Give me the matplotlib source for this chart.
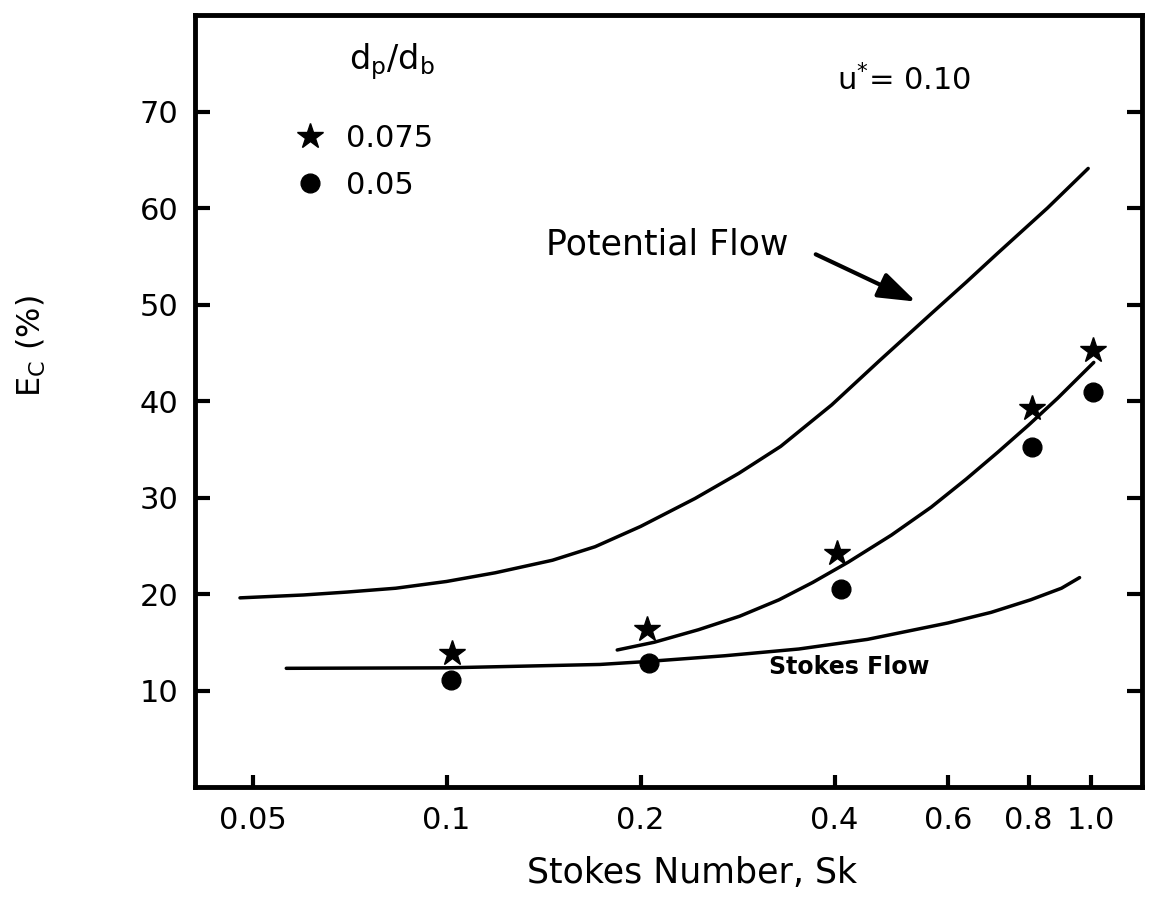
import matplotlib
matplotlib.use('Agg')
import matplotlib.pyplot as plt
from matplotlib.ticker import FixedLocator, NullLocator

plt.rcParams['font.family'] = ['DejaVu Sans']
plt.rcParams['mathtext.fontset'] = 'dejavusans'

# ---- data ----
potential_x = [0.0478, 0.06, 0.07, 0.0834, 0.100, 0.119, 0.146, 0.17, 0.20, 0.243,
               0.284, 0.33, 0.396, 0.47, 0.564, 0.64, 0.716, 0.856, 0.99]
potential_y = [19.6, 19.9, 20.2, 20.6, 21.3, 22.2, 23.5, 24.9, 27.0, 29.9,
               32.5, 35.3, 39.6, 44.2, 49.0, 52.3, 55.3, 60.0, 64.1]

middle_x = [0.184, 0.21, 0.246, 0.285, 0.328, 0.37, 0.42, 0.49, 0.565, 0.64,
            0.717, 0.80, 0.888, 1.01]
middle_y = [14.2, 15.0, 16.3, 17.7, 19.4, 21.2, 23.3, 26.1, 29.0, 31.9,
            34.7, 37.5, 40.3, 44.0]

stokes_x = [0.0564, 0.100, 0.173, 0.204, 0.27, 0.352, 0.45, 0.60, 0.70, 0.806, 0.90, 0.96]
stokes_y = [12.3, 12.35, 12.7, 13.0, 13.6, 14.3, 15.3, 17.0, 18.1, 19.4, 20.6, 21.7]

star_x = [0.1018, 0.205, 0.404, 0.81, 1.006]
star_y = [13.9, 16.4, 24.2, 39.3, 45.3]

circle_x = [0.1015, 0.206, 0.41, 0.81, 1.006]
circle_y = [11.1, 12.9, 20.5, 35.2, 40.9]

xticks = [0.05, 0.1, 0.2, 0.4, 0.6, 0.8, 1.0]
xtick_labels = ['0.05', '0.1', '0.2', '0.4', '0.6', '0.8', '1.0']
yticks = [10, 20, 30, 40, 50, 60, 70]
ytick_labels = ['10', '20', '30', '40', '50', '60', '70']

series_labels = ['0.075', '0.05']

# ---- figure ----
fig = plt.figure(figsize=(11.51, 9.09), dpi=100)
ax = fig.add_axes([0.1694, 0.1342, 0.8228, 0.8493])
ax.set_xscale('log')
ax.set_xlim(0.0407, 1.2)
ax.set_ylim(0, 80)

lw = 2.5
for xs, ys in ((potential_x, potential_y), (middle_x, middle_y), (stokes_x, stokes_y)):
    ax.plot(xs, ys, color='black', lw=lw, solid_capstyle='round', solid_joinstyle='round')

h1, = ax.plot(star_x, star_y, linestyle='none', marker='*', ms=19, color='black',
              label=series_labels[0], zorder=5)
h2, = ax.plot(circle_x, circle_y, linestyle='none', marker='o', ms=13.5, color='black',
              label=series_labels[1], zorder=5)

# ticks
ax.xaxis.set_major_locator(FixedLocator(xticks))
ax.xaxis.set_minor_locator(NullLocator())
ax.set_xticklabels(xtick_labels)
ax.yaxis.set_major_locator(FixedLocator(yticks))
ax.set_yticklabels(ytick_labels)
ax.tick_params(axis='x', which='major', direction='in', length=9, width=3,
               pad=14, labelsize=22, top=False)
ax.tick_params(axis='y', which='major', direction='in', length=11, width=3,
               pad=12, labelsize=22, left=True, right=True)
for sp in ax.spines.values():
    sp.set_linewidth(3.5)

# axis labels
ax.set_ylabel(r'E$_{\mathregular{C}}$ (%)', fontsize=23)
ax.yaxis.set_label_coords(-0.173, 0.571)
ax.yaxis.label.set_va('center')
ax.set_xlabel('Stokes Number, Sk', fontsize=25)
ax.xaxis.set_label_coords(0.525, -0.111)
ax.xaxis.label.set_va('center')

# legend
leg = ax.legend(handles=[h1, h2], loc='upper left', bbox_to_anchor=(0.1056, 0.8594),
                frameon=False, fontsize=22, borderpad=0, borderaxespad=0,
                handlelength=1.0, handletextpad=0.66, labelspacing=0.6, numpoints=1)
ax.text(0.1626, 0.9300, r'd$_{\mathregular{p}}$/d$_{\mathregular{b}}$', transform=ax.transAxes,
        fontsize=24, ha='left', va='baseline')

# annotations
ax.text(0.403, 73.3, r'u$^{*}$= 0.10', fontsize=22, ha='left', va='center')
ax.text(0.1427, 56.2, 'Potential Flow', fontsize=25, ha='left', va='center')
ax.annotate('', xy=(0.535, 50.3), xytext=(0.374, 55.2),
            arrowprops=dict(arrowstyle='-|>,head_length=1.15,head_width=0.4',
                            lw=3, color='black', mutation_scale=20,
                            shrinkA=0, shrinkB=0))
ax.text(0.316, 12.4, 'Stokes Flow', fontsize=17, fontweight='bold', ha='left', va='center')

fig.savefig('out.png', dpi=100, facecolor='white')
